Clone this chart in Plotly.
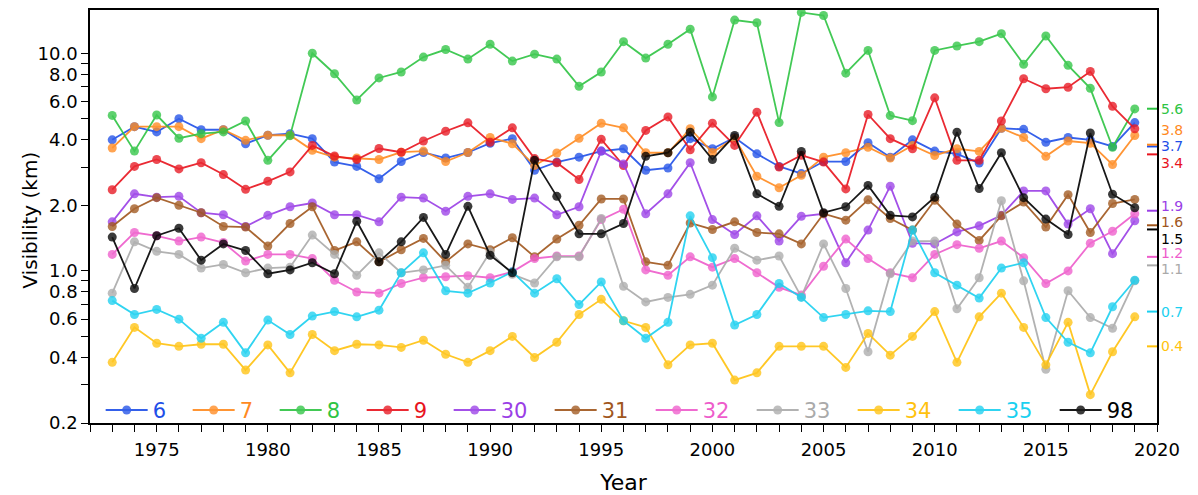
import math
import plotly.graph_objects as go

years = list(range(1973, 2020))

series_names = ["6", "7", "8", "9", "30", "31", "32", "33", "34", "35", "98"]
series_colors = ["#1f4fe8", "#ff8a1f", "#2ec443", "#e8141e", "#9a3ee6", "#a0561c",
                 "#ee5ccb", "#aaaaaa", "#ffc20e", "#1ad0f0", "#000000"]

s6 = [4.0, 4.6, 4.35, 5.0, 4.45, 4.45, 3.84, 4.2, 4.27, 4.05,
      3.16, 3.02, 2.65, 3.18, 3.5, 3.3, 3.5, 3.86, 4.05, 2.9,
      3.16, 3.33, 3.55, 3.64, 2.9, 2.97, 4.05, 3.64, 4.1, 3.45,
      3.02, 2.8, 3.18, 3.18, 3.88, 3.33, 4.0, 3.55, 3.45, 3.13,
      4.52, 4.47, 3.9, 4.1, 4.0, 3.73, 4.8]
s7 = [3.67, 4.6, 4.6, 4.6, 4.05, 4.45, 3.98, 4.2, 4.2, 3.58,
      3.33, 3.3, 3.25, 3.51, 3.55, 3.18, 3.5, 4.1, 3.84, 3.05,
      3.48, 4.07, 4.77, 4.54, 3.49, 3.49, 4.5, 3.5, 4.08, 2.72,
      2.41, 2.75, 3.33, 3.49, 3.7, 3.3, 3.77, 3.39, 3.64, 3.54,
      4.52, 4.1, 3.36, 3.95, 3.86, 3.08, 4.19]
s8 = [5.18, 3.55, 5.2, 4.07, 4.27, 4.35, 4.88, 3.22, 4.18, 10.0,
      8.05, 6.1, 7.7, 8.2, 9.6, 10.4, 9.4, 11.0, 9.2, 9.9,
      9.4, 7.05, 8.2, 11.3, 9.5, 11.0, 12.9, 6.3, 14.2, 13.8,
      4.8, 15.4, 14.9, 8.1, 10.3, 5.17, 4.9, 10.3, 10.8, 11.3,
      12.3, 8.9, 12.0, 8.8, 6.9, 3.7, 5.55]
s9 = [2.36, 3.02, 3.25, 2.94, 3.14, 2.77, 2.37, 2.58, 2.85, 3.77,
      3.37, 3.25, 3.65, 3.51, 3.95, 4.38, 4.79, 3.9, 4.54, 3.28,
      3.14, 2.63, 4.02, 3.05, 4.42, 5.1, 3.6, 4.77, 3.77, 5.36,
      3.0, 3.4, 3.16, 2.38, 5.23, 4.05, 3.64, 6.24, 3.22, 3.22,
      4.88, 7.63, 6.87, 6.98, 8.25, 5.7, 4.5]
s30 = [1.68, 2.26, 2.18, 2.2, 1.85, 1.81, 1.6, 1.8, 1.97, 2.05,
       1.81, 1.81, 1.68, 2.18, 2.16, 1.88, 2.2, 2.26, 2.13, 2.16,
       1.81, 1.97, 3.55, 3.1, 1.83, 2.26, 3.14, 1.72, 1.47, 1.79,
       1.37, 1.78, 1.83, 1.09, 1.54, 2.45, 1.34, 1.33, 1.51, 1.61,
       1.8, 2.33, 2.33, 1.64, 1.93, 1.2, 1.7]
s31 = [1.6, 1.93, 2.17, 2.0, 1.85, 1.6, 1.59, 1.3, 1.65, 1.97,
       1.24, 1.36, 1.1, 1.25, 1.41, 1.1, 1.33, 1.25, 1.42, 1.16,
       1.4, 1.62, 2.14, 2.14, 1.1, 1.06, 1.66, 1.55, 1.68, 1.5,
       1.48, 1.33, 1.83, 1.71, 2.12, 1.74, 1.54, 2.11, 1.64, 1.38,
       1.79, 2.07, 1.59, 2.24, 1.5, 2.04, 2.13]
s32 = [1.19, 1.5, 1.45, 1.37, 1.43, 1.35, 1.11, 1.19, 1.19, 1.14,
       0.906, 0.8, 0.79, 0.875, 0.93, 0.94, 0.95, 0.93, 0.99, 1.14,
       1.17, 1.17, 1.72, 1.92, 1.01, 0.955, 1.16, 1.04, 1.14, 0.98,
       0.84, 0.774, 1.05, 1.4, 1.14, 0.98, 0.93, 1.19, 1.32, 1.27,
       1.37, 1.15, 0.875, 1.0, 1.34, 1.52, 1.83]
s33 = [0.79, 1.36, 1.23, 1.19, 1.03, 1.07, 0.98, 1.03, 1.04, 1.46,
       1.19, 0.955, 1.21, 0.98, 1.01, 1.06, 0.84, 1.22, 0.965, 0.88,
       1.16, 1.16, 1.74, 0.85, 0.72, 0.755, 0.78, 0.86, 1.27, 1.12,
       1.17, 0.76, 1.33, 0.83, 0.425, 0.97, 1.37, 1.37, 0.67, 0.93,
       2.1, 0.9, 0.353, 0.81, 0.61, 0.545, 0.9]
s34 = [0.38, 0.55, 0.465, 0.45, 0.46, 0.46, 0.35, 0.457, 0.34, 0.51,
       0.43, 0.46, 0.457, 0.445, 0.48, 0.414, 0.38, 0.43, 0.5, 0.4,
       0.47, 0.63, 0.74, 0.59, 0.55, 0.37, 0.457, 0.465, 0.315, 0.34,
       0.45, 0.45, 0.45, 0.36, 0.516, 0.41, 0.5, 0.65, 0.38, 0.615,
       0.79, 0.55, 0.37, 0.58, 0.27, 0.425, 0.615]
s35 = [0.73, 0.63, 0.665, 0.6, 0.49, 0.58, 0.42, 0.594, 0.51, 0.62,
       0.65, 0.615, 0.66, 0.98, 1.21, 0.81, 0.79, 0.88, 0.99, 0.79,
       0.92, 0.70, 0.89, 0.59, 0.49, 0.58, 1.79, 1.15, 0.564, 0.63,
       0.875, 0.755, 0.61, 0.63, 0.655, 0.65, 1.54, 0.98, 0.86, 0.75,
       1.03, 1.09, 0.61, 0.47, 0.42, 0.684, 0.906]
s98 = [1.43, 0.83, 1.45, 1.57, 1.12, 1.33, 1.24, 0.97, 1.01, 1.09,
       0.97, 1.69, 1.1, 1.36, 1.76, 1.19, 1.98, 1.18, 0.98, 3.22,
       2.2, 1.48, 1.48, 1.65, 3.36, 3.49, 4.34, 3.25, 4.19, 2.26,
       1.98, 3.54, 1.85, 1.97, 2.47, 1.8, 1.77, 2.18, 4.34, 2.39,
       3.49, 2.17, 1.73, 1.47, 4.3, 2.25, 1.95]

series_values = [s6, s7, s8, s9, s30, s31, s32, s33, s34, s35, s98]

# mean values shown on the right edge
mean_values = [3.73, 3.8, 5.56, 3.43, 1.89, 1.62, 1.16, 1.06, 0.45, 0.65, 1.55]
mean_labels = ["3.7", "3.8", "5.6", "3.4", "1.9", "1.6", "1.2", "1.1", "0.4", "0.7", "1.5"]
label_shift = [0, 15, 0, -9, 5, 3, 4, -4, 0, 0, -10]

y_tickvals = [0.2, 0.4, 0.6, 0.8, 1.0, 2.0, 4.0, 6.0, 8.0, 10.0]
y_ticktext = ["0.2", "0.4", "0.6", "0.8", "1.0", "2.0", "4.0", "6.0", "8.0", "10.0"]
y_minor = [0.3, 0.5, 0.7, 0.9, 3.0, 5.0, 7.0, 9.0]
x_tickvals = list(range(1975, 2021, 5))

fig = go.Figure()
for name, color, vals in zip(series_names, series_colors, series_values):
    fig.add_trace(go.Scatter(
        x=years, y=vals, mode="lines+markers",
        name=f'<span style="color:{color}">{name}</span>',
        line=dict(color=color, width=1.8),
        marker=dict(color=color, size=9, opacity=0.85),
        opacity=0.9,
        legendwidth=30 if len(name) == 1 else 44,
    ))

# short coloured marks at the right edge for mean values
for color, mv, lab, sh in zip(series_colors, mean_values, mean_labels, label_shift):
    fig.add_trace(go.Scatter(
        x=[2019.55, 2020.0], y=[mv, mv], mode="lines",
        line=dict(color=color, width=2), showlegend=False, hoverinfo="skip",
    ))
    fig.add_annotation(
        xref="paper", x=1.0, xanchor="left", xshift=3,
        yref="y", y=math.log10(mv), yanchor="middle", yshift=sh,
        text=lab, showarrow=False, borderpad=0,
        font=dict(family="DejaVu Sans", size=14, color=color),
    )

# y-axis title
fig.add_annotation(
    xref="paper", x=-0.0562, xanchor="center",
    yref="paper", y=0.49, yanchor="middle",
    text="Visibility (km)", textangle=-90, showarrow=False,
    font=dict(family="DejaVu Sans", size=20, color="black"),
)

fig.update_layout(
    width=1198, height=495,
    margin=dict(l=82, r=49, t=2, b=80, autoexpand=False),
    plot_bgcolor="white", paper_bgcolor="white",
    font=dict(family="DejaVu Sans", color="black"),
    showlegend=True,
    legend=dict(
        orientation="h", x=0.01, y=-0.019, xanchor="left", yanchor="bottom",
        font=dict(family="DejaVu Sans", size=21),
        bgcolor="rgba(255,255,255,0)", itemwidth=42, tracegroupgap=0,
    ),
)
fig.update_xaxes(
    range=[1972, 2020], tickvals=x_tickvals, automargin=False,
    ticks="outside", ticklen=7, tickwidth=1.3, tickcolor="black",
    minor=dict(dtick=1, ticks="outside", ticklen=7, tickwidth=1.3, tickcolor="black"),
    showline=True, linecolor="black", linewidth=1.5, mirror=True,
    showgrid=False, zeroline=False, ticklabelstandoff=3,
    tickfont=dict(family="DejaVu Sans", size=18),
    title=dict(text="Year", font=dict(family="DejaVu Sans", size=22), standoff=15),
)
fig.update_yaxes(
    type="log", range=[math.log10(0.2), math.log10(15.8)], automargin=False,
    tickvals=y_tickvals, ticktext=y_ticktext,
    ticks="outside", ticklen=7, tickwidth=1.3, tickcolor="black",
    minor=dict(tickvals=y_minor, ticks="outside", ticklen=7, tickwidth=1.3, tickcolor="black"),
    showline=True, linecolor="black", linewidth=1.5, mirror=True,
    showgrid=False, zeroline=False,
    tickfont=dict(family="DejaVu Sans", size=18),
)

fig.write_html("out.html")
